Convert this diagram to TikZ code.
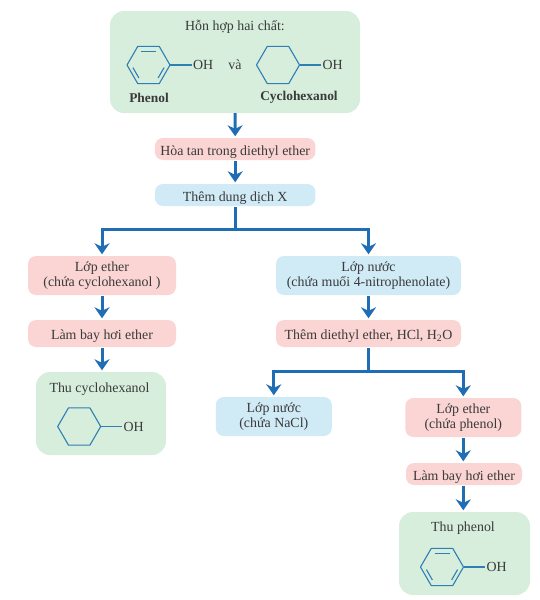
\documentclass[tikz,border=0pt]{standalone}
\usepackage{fontspec}
\setmainfont{Liberation Serif}
\usetikzlibrary{arrows.meta}
\definecolor{gbox}{HTML}{D6EEDB}
\definecolor{pbox}{HTML}{FAD5D4}
\definecolor{bbox}{HTML}{D0EAF6}
\definecolor{flow}{HTML}{1F6DB4}
\definecolor{ringc}{HTML}{2F7FB5}
\definecolor{ink}{HTML}{3A3A3A}
\tikzset{
  box/.style={rounded corners=8pt,inner sep=0pt,align=center,text=ink,font=\fontsize{13.9}{15}\selectfont,execute at begin node={\rule{0pt}{15pt}}},
  greenbox/.style={box,fill=gbox,rounded corners=14pt},
  pinkbox/.style={box,fill=pbox},
  bluebox/.style={box,fill=bbox},
  label/.style={inner sep=0pt,text=ink,font=\fontsize{13.9}{15}\selectfont},
  boldlabel/.style={label,font=\fontsize{13.4}{15}\selectfont\bfseries},
  flowline/.style={draw=flow,line width=3pt},
  arr/.style={flowline,-{Stealth[length=11pt,width=15pt,inset=3.5pt]},shorten >=1.5pt},
  ring/.style={draw=ringc,line width=1.1pt,line join=round},
  bond/.style={ring,shorten >=1.2pt},
}
\newcommand{\hexring}[3]{% name, x, y
  \coordinate (#1) at (#2,#3);
  \draw[ring] (#1)++(21.5,0) -- ++(-10.75,18.6) -- ++(-21.5,0) -- ++(-10.75,-18.6) -- ++(10.75,-18.6) -- ++(21.5,0) -- cycle;
  \coordinate (#1v) at ([xshift=21.5pt]#1);
}
\newcommand{\innerbonds}[2]{% x, y
  \draw[ring] (#1-7.5,#2-13.8) -- (#1+7.5,#2-13.8);
  \draw[ring] (#1-15.6,#2+2.6) -- (#1-9.6,#2+13);
  \draw[ring] (#1+15.6,#2+2.6) -- (#1+9.6,#2+13);
}
\begin{document}
\begin{tikzpicture}[x=1pt,y=-1pt]
\useasboundingbox (0,0) rectangle (540,600);
% boxes
\node[greenbox,minimum width=250pt,minimum height=102pt] (mix) at (235,62) {};
\node[pinkbox,minimum width=160.5pt,minimum height=22pt] (dissolve) at (235.2,149) {Hòa tan trong diethyl ether};
\node[bluebox,minimum width=160.5pt,minimum height=22pt] (addx) at (235.2,195) {Thêm dung dịch X};
\node[pinkbox,minimum width=148pt,minimum height=39pt] (ether1) at (102,275.5) {Lớp ether\\(chứa cyclohexanol )};
\node[pinkbox,minimum width=148pt,minimum height=27pt] (evap1) at (102,333.5) {Làm bay hơi ether};
\node[greenbox,minimum width=130pt,minimum height=83pt] (cyc) at (101,413.5) {};
\node[bluebox,minimum width=185pt,minimum height=39pt] (water1) at (368.5,275.5) {Lớp nước\\(chứa muối 4-nitrophenolate)};
\node[pinkbox,minimum width=185pt,minimum height=27pt] (acid) at (368.5,333.5) {Thêm diethyl ether, HCl, H\textsubscript{2}O};
\node[bluebox,minimum width=116pt,minimum height=39pt] (water2) at (273.8,416.5) {Lớp nước\\(chứa NaCl)};
\node[pinkbox,minimum width=116pt,minimum height=39pt] (ether2) at (463.3,417.5) {Lớp ether\\(chứa phenol)};
\node[pinkbox,minimum width=116pt,minimum height=22pt] (evap2) at (464,474) {Làm bay hơi ether};
\node[greenbox,minimum width=131pt,minimum height=83pt] (phen) at (464.5,553.5) {};
% texts in green boxes
\node[label] (title) at (235,27) {Hỗn hợp hai chất:};
\node[boldlabel] (nphenol) at (149,97.5) {Phenol};
\node[boldlabel] (ncyc) at (299,97.5) {Cyclohexanol};
\node[label] (va) at (235,65) {và};
\node[label] (thucyc) at (99.5,389) {Thu cyclohexanol};
\node[label] (thuphen) at (463,528) {Thu phenol};
% rings
\hexring{r1}{148.5}{65}\innerbonds{148.5}{65}
\node[label,anchor=west] (oh1) at (193,65) {OH};
\draw[bond] (r1v) -- (oh1.west);
\hexring{r2}{278}{65}
\node[label,anchor=west] (oh2) at (322.5,65) {OH};
\draw[bond] (r2v) -- (oh2.west);
\hexring{r3}{79.2}{426.5}
\node[label,anchor=west] (oh3) at (123.5,426.5) {OH};
\draw[bond] (r3v) -- (oh3.west);
\hexring{r4}{442}{567}\innerbonds{442}{567}
\node[label,anchor=west] (oh4) at (486.5,567) {OH};
\draw[bond] (r4v) -- (oh4.west);
% connectors
\coordinate (j1) at (235.2,229);
\coordinate (j2) at (368.5,371);
\draw[arr] (mix.south) -- (dissolve.north);
\draw[arr,shorten <=0.8pt] (dissolve.south) -- (addx.north);
\draw[flowline,shorten <=0.8pt] (addx.south) -- (j1);
\draw[arr] (j1) -| (ether1.north);
\draw[arr] (j1) -| (water1.north);
\draw[arr,shorten <=0.8pt] (ether1.south) -- (evap1.north);
\draw[arr,shorten <=0.8pt] (evap1.south) -- (cyc.north -| evap1.south);
\draw[arr,shorten <=0.8pt] (water1.south) -- (acid.north);
\draw[flowline,shorten <=0.8pt] (acid.south) -- (j2);
\draw[arr] (j2) -| (water2.north);
\draw[arr] (j2) -| (ether2.north);
\draw[arr,shorten <=0.8pt] (ether2.south) -- (evap2.north -| ether2.south);
\draw[arr,shorten <=0.8pt] (evap2.south -| ether2.south) -- (phen.north -| ether2.south);
\end{tikzpicture}
\end{document}
